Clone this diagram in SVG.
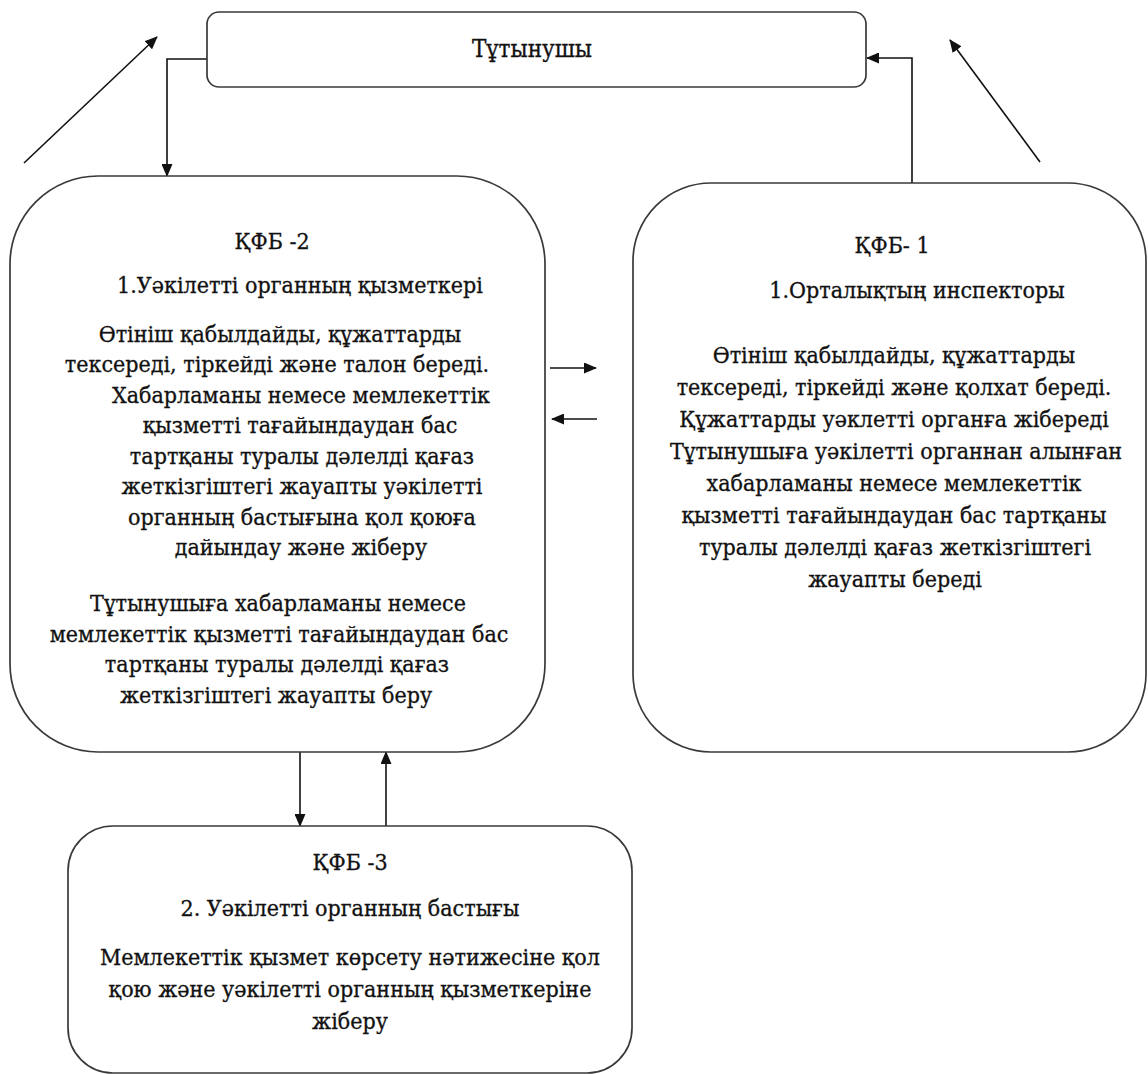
<svg xmlns="http://www.w3.org/2000/svg" width="1148" height="1074" viewBox="0 0 1148 1074">
<style>
.box{fill:#fff;stroke:#3a3a3a;stroke-width:1.7}
.t{font-family:'DejaVu Serif','Liberation Serif',serif;font-stretch:condensed;font-size:23px;fill:#111;stroke:#111;stroke-width:0.3;text-anchor:middle}
.c{fill:none;stroke:#111;stroke-width:1.6}
</style>
<defs>
<marker id="ah" viewBox="0 0 13 11" refX="12" refY="5.5" markerWidth="13" markerHeight="11" markerUnits="userSpaceOnUse" orient="auto">
<path d="M0,0 L13,5.5 L0,11 Z" fill="#111"/>
</marker>
</defs>
<rect width="1148" height="1074" fill="#fff"/>
<g id="connectors">
<path class="c" d="M207,59 H167 V176" marker-end="url(#ah)"/>
<path class="c" d="M24,163 L157,37" marker-end="url(#ah)"/>
<path class="c" d="M912,183 V58 H867" marker-end="url(#ah)"/>
<path class="c" d="M1040,162 L950,40" marker-end="url(#ah)"/>
<path class="c" d="M550,368 H596" marker-end="url(#ah)"/>
<path class="c" d="M597,419 H552" marker-end="url(#ah)"/>
<path class="c" d="M300,752 V826" marker-end="url(#ah)"/>
<path class="c" d="M386,826 V752" marker-end="url(#ah)"/>
</g>
<g id="consumer">
<rect class="box" x="207" y="12" width="659" height="75" rx="12"/>
<text class="t" x="532" y="57" style="font-size:24px">Тұтынушы</text>
</g>
<g id="kfb2">
<rect class="box" x="10" y="176" width="535" height="576" rx="88"/>
<text class="t" x="272" y="249">ҚФБ -2</text>
<text class="t" x="300" y="293">1.Уәкілетті органның  қызметкері</text>
<text class="t" x="280" y="342">Өтініш қабылдайды, құжаттарды</text>
<text class="t" x="277" y="372">тексереді, тіркейді және талон береді.</text>
<text class="t" x="301" y="403">Хабарламаны немесе мемлекеттік</text>
<text class="t" x="300" y="433">қызметті тағайындаудан бас</text>
<text class="t" x="302" y="464">тартқаны туралы дәлелді қағаз</text>
<text class="t" x="302" y="494">жеткізгіштегі  жауапты уәкілетті</text>
<text class="t" x="302" y="525">органның бастығына қол қоюға</text>
<text class="t" x="301" y="555">дайындау және жіберу</text>
<text class="t" x="278" y="611">Тұтынушыға хабарламаны немесе</text>
<text class="t" x="279" y="642">мемлекеттік қызметті  тағайындаудан бас</text>
<text class="t" x="277" y="672">тартқаны туралы дәлелді қағаз</text>
<text class="t" x="276" y="703">жеткізгіштегі  жауапты беру</text>
</g>
<g id="kfb1">
<rect class="box" x="633" y="183" width="513" height="569" rx="78"/>
<text class="t" x="892" y="253">ҚФБ- 1</text>
<text class="t" x="917" y="298">1.Орталықтың  инспекторы</text>
<text class="t" x="894" y="363">Өтініш  қабылдайды, құжаттарды</text>
<text class="t" x="894" y="395">тексереді, тіркейді және қолхат береді.</text>
<text class="t" x="894" y="427">Құжаттарды уәклетті органға жібереді</text>
<text class="t" x="896" y="459">Тұтынушыға уәкілетті органнан алынған</text>
<text class="t" x="894" y="491">хабарламаны немесе мемлекеттік</text>
<text class="t" x="894" y="523">қызметті тағайындаудан бас тартқаны</text>
<text class="t" x="895" y="555">туралы дәлелді қағаз жеткізгіштегі</text>
<text class="t" x="895" y="587">жауапты береді</text>
</g>
<g id="kfb3">
<rect class="box" x="68" y="826" width="564" height="247" rx="45"/>
<text class="t" x="350" y="870">ҚФБ -3</text>
<text class="t" x="350" y="916">2. Уәкілетті органның бастығы</text>
<text class="t" x="350" y="965">Мемлекеттік қызмет  көрсету нәтижесіне қол</text>
<text class="t" x="350" y="997">қою және уәкілетті органның қызметкеріне</text>
<text class="t" x="350" y="1029">жіберу</text>
</g>
</svg>
